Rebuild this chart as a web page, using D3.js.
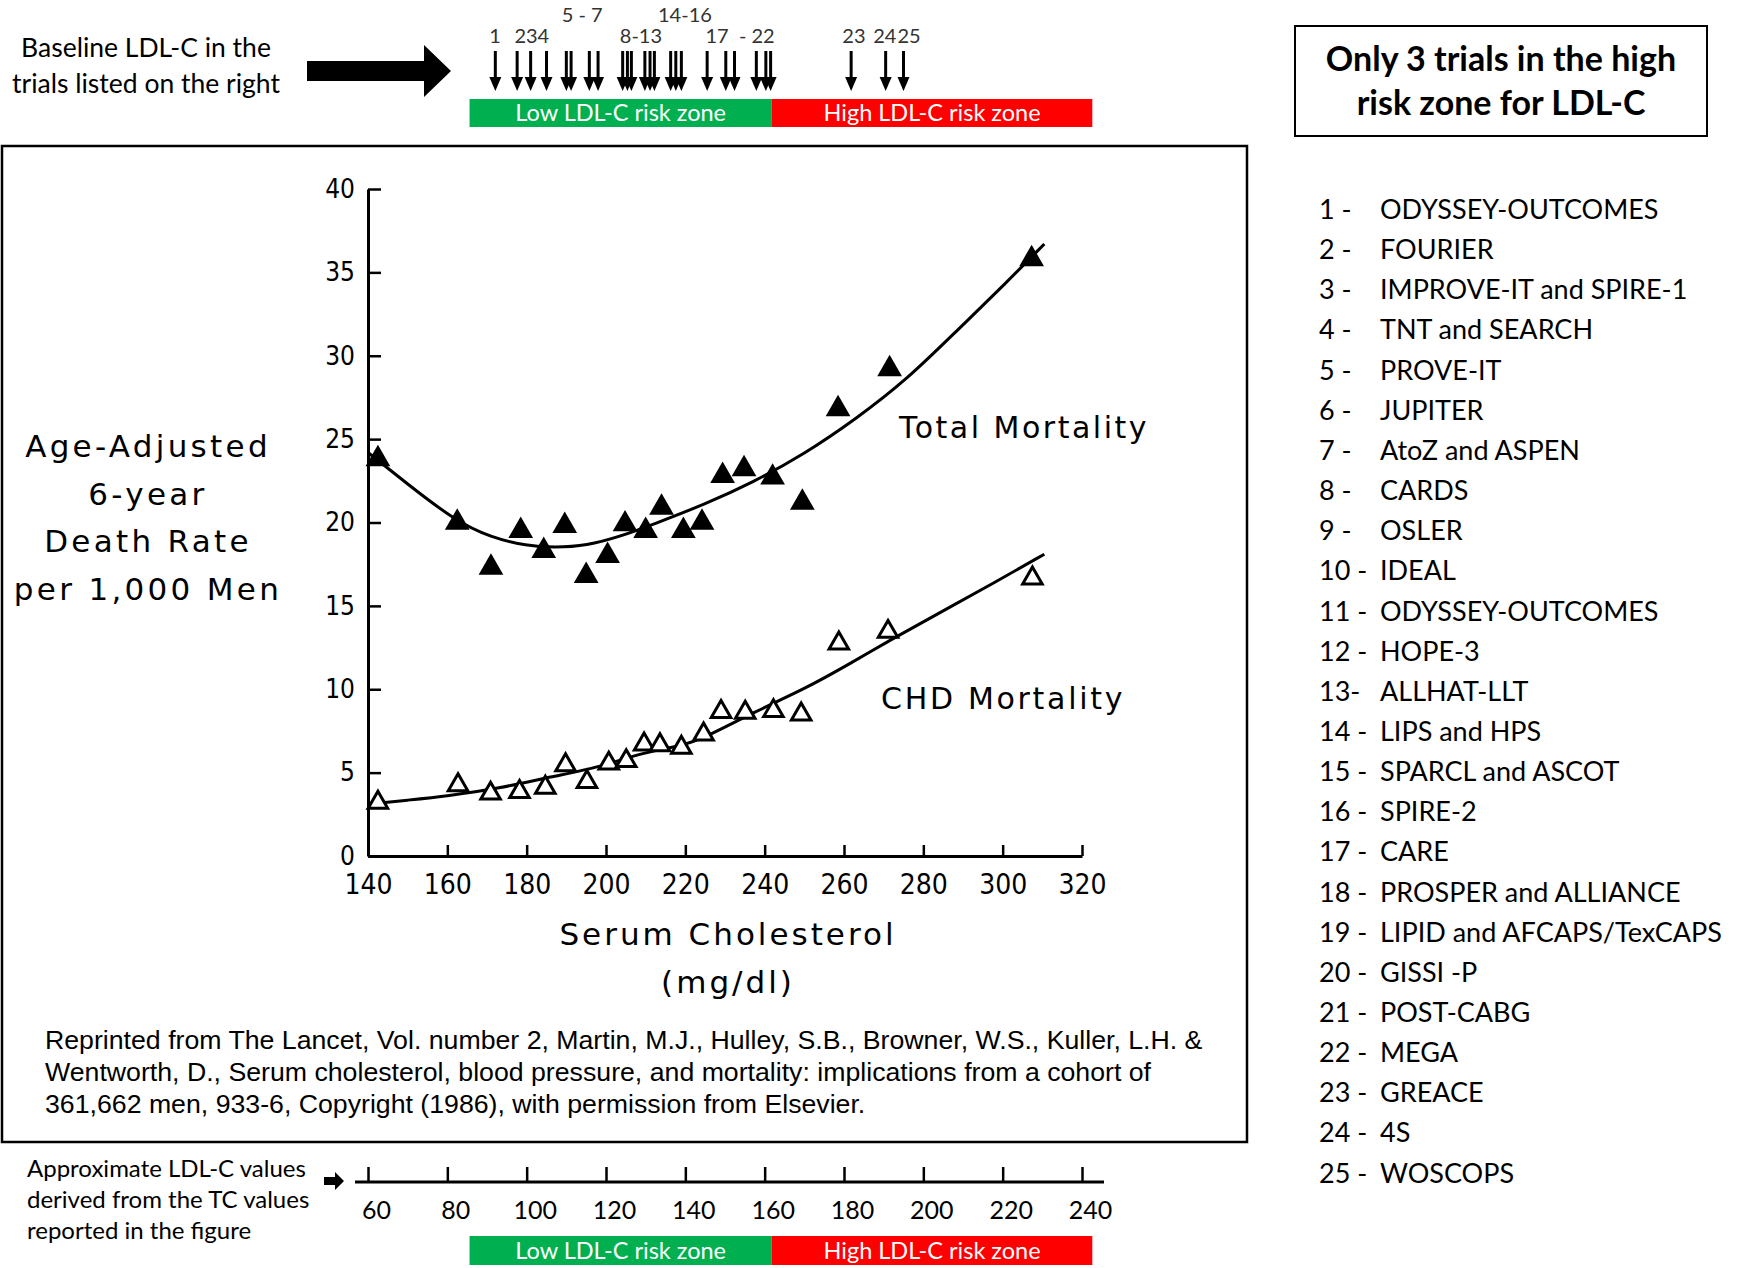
<!DOCTYPE html>
<html lang="en">
<head>
<meta charset="UTF-8">
<title>Serum cholesterol and mortality</title>
<script src="https://d3js.org/d3.v7.min.js"></script>
<style>
  body { margin: 0; background: #fff; }
  .axis .domain { stroke: #000; stroke-width: 3px; }
  .axis .tick line { stroke: #000; stroke-width: 2.5px; }
  .axis text { font-family: "DejaVu Sans", sans-serif; font-stretch: condensed; fill: #000; }
  .calibri { font-family: Lato, "Open Sans", sans-serif; }
  .futura { font-family: "DejaVu Sans", sans-serif; fill: #000; }
</style>
</head>
<body>
<svg width="1749" height="1268"></svg>
<script>
// ---- data ----
const tcTicks = [140, 160, 180, 200, 220, 240, 260, 280, 300, 320];
const rateTicks = [0, 5, 10, 15, 20, 25, 30, 35, 40];
const ldlTicks = [60, 80, 100, 120, 140, 160, 180, 200, 220, 240];

// Total mortality (filled triangles)
const totalTC = [142.5, 162.5, 171, 178.5, 184.3, 189.6, 195, 200.4, 204.8, 210, 214, 219.5, 224.2, 229.4, 234.8, 242, 249.5, 258.5, 271.5, 307.3];
const totalRate = [23.8, 20.0, 17.3, 19.5, 18.3, 19.8, 16.8, 18.0, 19.9, 19.5, 20.9, 19.5, 20.0, 22.8, 23.2, 22.7, 21.2, 26.8, 29.2, 35.8];
// CHD mortality (open triangles)
const chdTC = [142.5, 162.7, 170.9, 178.2, 184.7, 189.8, 195.2, 200.7, 205.1, 209.6, 213.6, 219, 224.6, 229, 235.1, 242.2, 249.2, 258.7, 271.1, 307.5];
const chdRate = [3.2, 4.25, 3.75, 3.85, 4.1, 5.45, 4.45, 5.55, 5.7, 6.7, 6.65, 6.5, 7.3, 8.65, 8.6, 8.7, 8.5, 12.75, 13.45, 16.65];

// fitted curves as drawn in the figure
const totalCurveTC = [140, 150, 162, 171, 180, 187, 195, 204, 212, 225, 237, 250, 263, 276, 288, 301, 310.5];
const totalCurveRate = [24.2, 22.3, 20.1, 19.1, 18.6, 18.5, 18.6, 19.2, 19.9, 21.1, 22.4, 24.1, 26.2, 28.6, 31.4, 34.4, 36.7];
const chdCurveTC = [140, 150, 160, 173, 186, 199, 209, 219, 225, 237, 250, 262, 272, 285, 298, 310.5];
const chdCurveRate = [3.1, 3.35, 3.6, 4.05, 4.75, 5.35, 6.2, 6.6, 7.1, 8.6, 10.0, 11.6, 13.0, 14.7, 16.4, 18.1];

// baseline LDL-C of the trials (top arrows)
const trialLdl = [92.1, 97.6, 101, 105, 110, 111.2, 115.8, 118, 124.2, 125.4, 126.4, 129.8, 131.1, 132.2, 136.3, 137.6, 139, 145.5, 150.2, 152.4, 157.9, 160.3, 161.5, 181.8, 190.5, 195];
const lowerGroupText = ["1", "234", "8-13", "17  - 22", "23", "24", "25"];
const lowerGroupLdl = [92, 101.3, 128.8, 153.8, 182.5, 190.3, 196.4];
const upperGroupText = ["5 - 7", "14-16"];
const upperGroupLdl = [114, 139.9];

const zoneNames = ["Low LDL-C risk zone", "High LDL-C risk zone"];
const zoneFrom = [85.6, 161.8];
const zoneTo = [161.8, 242.6];
const zoneColors = ["#00b050", "#ff0000"];

const trialNums = ["1 -", "2 -", "3 -", "4 -", "5 -", "6 -", "7 -", "8 -", "9 -", "10 -", "11 -", "12 -", "13-",
  "14 -", "15 -", "16 -", "17 -", "18 -", "19 -", "20 -", "21 -", "22 -", "23 -", "24 -", "25 -"];
const trialNames = ["ODYSSEY-OUTCOMES", "FOURIER", "IMPROVE-IT and SPIRE-1", "TNT and SEARCH", "PROVE-IT",
  "JUPITER", "AtoZ and ASPEN", "CARDS", "OSLER", "IDEAL", "ODYSSEY-OUTCOMES", "HOPE-3", "ALLHAT-LLT",
  "LIPS and HPS", "SPARCL and ASCOT", "SPIRE-2", "CARE", "PROSPER and ALLIANCE", "LIPID and AFCAPS/TexCAPS",
  "GISSI -P", "POST-CABG", "MEGA", "GREACE", "4S", "WOSCOPS"];

const citation = [
  "Reprinted from The Lancet, Vol. number 2, Martin, M.J., Hulley, S.B., Browner, W.S., Kuller, L.H. &",
  "Wentworth, D., Serum cholesterol, blood pressure, and mortality: implications from a cohort of",
  "361,662 men, 933-6, Copyright (1986), with permission from Elsevier."
];

// ---- scales ----
const svg = d3.select("svg");
const x = d3.scaleLinear().domain([140, 320]).range([368, 1082]);
const y = d3.scaleLinear().domain([0, 40]).range([856, 189]);
const ldl = d3.scaleLinear().domain([60, 240]).range([368, 1082]);

// ---- top strip: arrow, trial arrows, zones ----
svg.append("text").attr("class", "calibri").attr("text-anchor", "middle")
  .attr("font-size", 26.5)
  .selectAll("tspan").data(["Baseline LDL-C in the", "trials listed on the right"]).join("tspan")
  .attr("x", 146).attr("y", (d, i) => 57 + i * 36).text(d => d);

svg.append("path").attr("d", "M307,61H424V45L451,71L424,97V81H307Z").attr("fill", "#000");

const arrows = svg.append("g");
trialLdl.forEach(v => {
  const ax = ldl(v);
  arrows.append("line").attr("x1", ax).attr("x2", ax).attr("y1", 51).attr("y2", 80)
    .attr("stroke", "#000").attr("stroke-width", 3);
  arrows.append("path").attr("d", `M${ax - 6},77L${ax + 6},77L${ax},91Z`).attr("fill", "#000");
});

svg.append("g").selectAll("text").data(lowerGroupText).join("text")
  .attr("class", "calibri").attr("font-size", 20).attr("fill", "#333").attr("text-anchor", "middle")
  .attr("x", (d, i) => ldl(lowerGroupLdl[i])).attr("y", 43).style("white-space", "pre").text(d => d);
svg.append("g").selectAll("text").data(upperGroupText).join("text")
  .attr("class", "calibri").attr("font-size", 20).attr("fill", "#333").attr("text-anchor", "middle")
  .attr("x", (d, i) => ldl(upperGroupLdl[i])).attr("y", 22).text(d => d);

function zones(top, h) {
  const g = svg.append("g");
  g.selectAll("rect").data(zoneNames).join("rect")
    .attr("x", (d, i) => ldl(zoneFrom[i])).attr("width", (d, i) => ldl(zoneTo[i]) - ldl(zoneFrom[i]))
    .attr("y", top).attr("height", h).attr("fill", (d, i) => zoneColors[i]);
  g.selectAll("text").data(zoneNames).join("text")
    .attr("class", "calibri").attr("font-size", 23.5).attr("fill", "#fff").attr("text-anchor", "middle")
    .attr("x", (d, i) => (ldl(zoneFrom[i]) + ldl(zoneTo[i])) / 2).attr("y", top + h / 2 + 8).text(d => d);
}
zones(99, 28);

// ---- main figure frame ----
svg.append("rect").attr("x", 2).attr("y", 146).attr("width", 1245).attr("height", 996)
  .attr("fill", "none").attr("stroke", "#000").attr("stroke-width", 2.5);

// axes
svg.append("g").attr("class", "axis").attr("transform", `translate(0,${y(0)})`)
  .call(d3.axisBottom(x).tickValues(tcTicks).tickSize(-11).tickSizeOuter(0).tickPadding(18))
  .selectAll("text").attr("font-size", 28);
svg.append("g").attr("class", "axis").attr("transform", `translate(${x(140)},0)`)
  .call(d3.axisLeft(y).tickValues(rateTicks).tickSize(-13).tickSizeOuter(0).tickPadding(13))
  .selectAll("text").attr("font-size", 26);

// curves
const line = d3.line().x(d => x(d[0])).y(d => y(d[1])).curve(d3.curveBasis);
svg.append("path").attr("d", line(d3.zip(totalCurveTC, totalCurveRate)))
  .attr("fill", "none").attr("stroke", "#000").attr("stroke-width", 3);
svg.append("path").attr("d", line(d3.zip(chdCurveTC, chdCurveRate)))
  .attr("fill", "none").attr("stroke", "#000").attr("stroke-width", 3);

// markers
svg.append("g").selectAll("path").data(d3.zip(totalTC, totalRate)).join("path")
  .attr("transform", d => `translate(${x(d[0])},${y(d[1])})`)
  .attr("d", d3.symbol(d3.symbolTriangle, 265)).attr("fill", "#000");
svg.append("g").selectAll("path").data(d3.zip(chdTC, chdRate)).join("path")
  .attr("transform", d => `translate(${x(d[0])},${y(d[1])})`)
  .attr("d", d3.symbol(d3.symbolTriangle, 165)).attr("fill", "#fff").attr("stroke", "#000").attr("stroke-width", 3);

// series labels
svg.append("text").attr("class", "futura").attr("font-size", 30).attr("letter-spacing", 2.5)
  .attr("x", 899).attr("y", 438).text("Total Mortality");
svg.append("text").attr("class", "futura").attr("font-size", 30).attr("letter-spacing", 2.7)
  .attr("x", 881).attr("y", 709).text("CHD Mortality");

// axis titles
svg.append("text").attr("class", "futura").attr("text-anchor", "middle").attr("font-size", 31)
  .attr("letter-spacing", 3.3)
  .selectAll("tspan").data(["Age-Adjusted", "6-year", "Death Rate", "per 1,000 Men"]).join("tspan")
  .attr("x", 148).attr("y", (d, i) => 457 + i * 47.5).text(d => d);
svg.append("text").attr("class", "futura").attr("text-anchor", "middle").attr("font-size", 31)
  .attr("letter-spacing", 3)
  .selectAll("tspan").data(["Serum Cholesterol", "(mg/dl)"]).join("tspan")
  .attr("x", 728).attr("y", (d, i) => 945 + i * 48).text(d => d);

// citation
svg.append("text").attr("font-family", "'Liberation Sans', Arial, sans-serif").attr("font-size", 26.7)
  .selectAll("tspan").data(citation).join("tspan")
  .attr("x", 45).attr("y", (d, i) => 1049 + i * 32).text(d => d);

// ---- bottom LDL-C scale ----
svg.append("text").attr("class", "calibri").attr("font-size", 24)
  .selectAll("tspan").data(["Approximate LDL-C values", "derived from the TC values", "reported in the figure"]).join("tspan")
  .attr("x", 27).attr("y", (d, i) => 1177 + i * 31).text(d => d);
svg.append("path").attr("d", "M324,1177H335V1172L344,1181L335,1190V1185H324Z").attr("fill", "#000");

const ldlAxis = svg.append("g").attr("class", "axis").attr("transform", "translate(0,1182)")
  .call(d3.axisBottom(ldl).tickValues(ldlTicks).tickSize(-15).tickSizeOuter(0).tickPadding(19));
ldlAxis.select(".domain").remove();
ldlAxis.selectAll(".tick line").attr("stroke-width", 2);
ldlAxis.selectAll("text").attr("font-size", 25).attr("dx", 8)
  .style("font-family", "Lato, sans-serif").style("font-stretch", "normal");
ldlAxis.append("line").attr("x1", 355).attr("x2", 1104).attr("stroke", "#000").attr("stroke-width", 3);

zones(1236, 29);

// ---- right side: note and trial list ----
svg.append("rect").attr("x", 1295).attr("y", 26).attr("width", 412).attr("height", 110)
  .attr("fill", "none").attr("stroke", "#000").attr("stroke-width", 2);
svg.append("text").attr("class", "calibri").attr("font-weight", "bold").attr("font-size", 34)
  .attr("text-anchor", "middle")
  .selectAll("tspan").data(["Only 3 trials in the high", "risk zone for LDL-C"]).join("tspan")
  .attr("x", 1501).attr("y", (d, i) => 71 + i * 44).text(d => d);

const list = svg.append("g").attr("class", "calibri").attr("font-size", 27);
list.selectAll("text.num").data(trialNums).join("text").attr("class", "num")
  .attr("x", 1319).attr("y", (d, i) => 219 + i * 40.15).text(d => d);
list.selectAll("text.name").data(trialNames).join("text").attr("class", "name")
  .attr("x", 1380).attr("y", (d, i) => 219 + i * 40.15).text(d => d);
</script>
</body>
</html>
